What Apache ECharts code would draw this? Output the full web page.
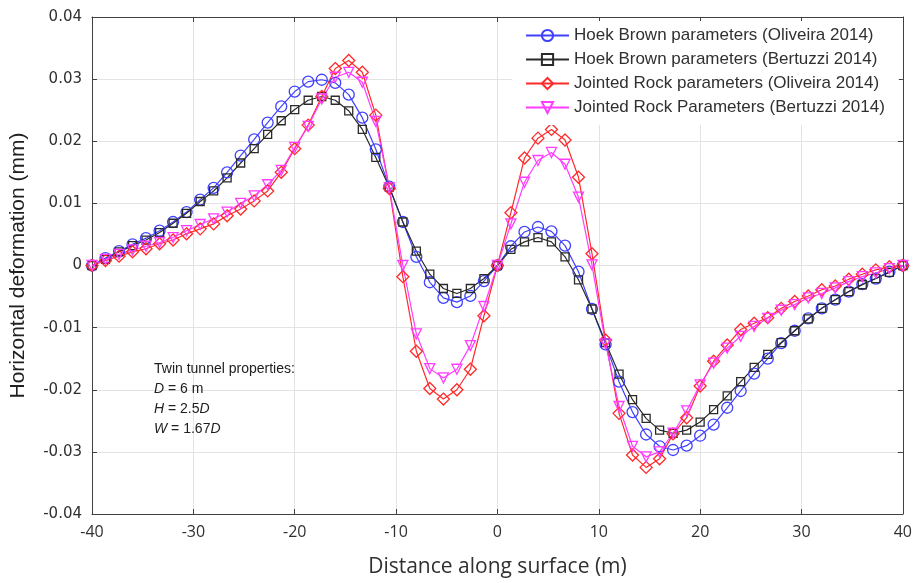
<!DOCTYPE html>
<html>
<head>
<meta charset="utf-8">
<script src="https://cdn.jsdelivr.net/npm/echarts@6/dist/echarts.min.js"></script>
<style>
html,body{margin:0;padding:0;background:#fff;}
#chart{width:915px;height:583px;}
</style>
</head>
<body>
<div id="chart"></div>
<script>
// Distance along surface (m)
const distance = [-40,-38.67,-37.33,-36,-34.67,-33.33,-32,-30.67,-29.33,-28,-26.67,-25.33,-24,-22.67,-21.33,-20,-18.67,-17.33,-16,-14.67,-13.33,-12,-10.67,-9.33,-8,-6.67,-5.33,-4,-2.67,-1.33,0,1.33,2.67,4,5.33,6.67,8,9.33,10.67,12,13.33,14.67,16,17.33,18.67,20,21.33,22.67,24,25.33,26.67,28,29.33,30.67,32,33.33,34.67,36,37.33,38.67,40];

const hbOliveira = [0,0.0012,0.0023,0.0034,0.0044,0.0056,0.0070,0.0086,0.0106,0.0125,0.0150,0.0177,0.0203,0.0230,0.0256,0.0280,0.0296,0.0299,0.0294,0.0275,0.0238,0.0187,0.0127,0.0070,0.0014,-0.0027,-0.0052,-0.0059,-0.0049,-0.0025,0,0.0031,0.0054,0.0062,0.0055,0.0032,-0.0010,-0.0070,-0.0127,-0.0187,-0.0236,-0.0272,-0.0291,-0.0297,-0.0290,-0.0274,-0.0256,-0.0229,-0.0202,-0.0174,-0.0150,-0.0125,-0.0105,-0.0085,-0.0069,-0.0055,-0.0042,-0.0030,-0.0021,-0.0010,0];

const hbBertuzzi = [0,0.0010,0.0022,0.0032,0.0041,0.0053,0.0068,0.0084,0.0103,0.0120,0.0141,0.0165,0.0188,0.0211,0.0233,0.0251,0.0266,0.0272,0.0266,0.0249,0.0219,0.0174,0.0126,0.0070,0.0023,-0.0014,-0.0037,-0.0045,-0.0037,-0.0021,0,0.0026,0.0038,0.0045,0.0038,0.0014,-0.0023,-0.0070,-0.0124,-0.0175,-0.0216,-0.0246,-0.0265,-0.0270,-0.0265,-0.0252,-0.0232,-0.0210,-0.0187,-0.0164,-0.0143,-0.0124,-0.0105,-0.0086,-0.0069,-0.0055,-0.0042,-0.0031,-0.0021,-0.0011,0];

const jrOliveira = [0,0.0008,0.0015,0.0022,0.0027,0.0035,0.0041,0.0051,0.0059,0.0067,0.0080,0.0091,0.0104,0.0120,0.0150,0.0188,0.0226,0.0272,0.0317,0.0330,0.0311,0.0242,0.0124,-0.0018,-0.0138,-0.0198,-0.0215,-0.0200,-0.0167,-0.0081,0,0.0085,0.0173,0.0205,0.0219,0.0202,0.0142,0.0019,-0.0120,-0.0238,-0.0305,-0.0325,-0.0311,-0.0271,-0.0245,-0.0194,-0.0154,-0.0128,-0.0103,-0.0093,-0.0084,-0.0069,-0.0058,-0.0049,-0.0039,-0.0033,-0.0022,-0.0014,-0.0007,-0.0002,0];

const jrBertuzzi = [0,0.0010,0.0018,0.0025,0.0031,0.0037,0.0045,0.0056,0.0066,0.0075,0.0086,0.0100,0.0112,0.0130,0.0153,0.0190,0.0224,0.0268,0.0303,0.0311,0.0295,0.0232,0.0125,0.0000,-0.0110,-0.0166,-0.0181,-0.0167,-0.0129,-0.0066,0,0.0067,0.0134,0.0169,0.0182,0.0163,0.0110,0.0001,-0.0126,-0.0227,-0.0291,-0.0308,-0.0300,-0.0270,-0.0234,-0.0192,-0.0157,-0.0133,-0.0114,-0.0098,-0.0085,-0.0072,-0.0063,-0.0052,-0.0045,-0.0036,-0.0026,-0.0018,-0.0012,-0.0005,0];

const seriesNames = [
  'Hoek Brown parameters (Oliveira 2014)',
  'Hoek Brown parameters (Bertuzzi 2014)',
  'Jointed Rock parameters (Oliveira 2014)',
  'Jointed Rock Parameters (Bertuzzi 2014)'
];
const xTicks = [-40,-30,-20,-10,0,10,20,30,40];
const yTicks = [-0.04,-0.03,-0.02,-0.01,0,0.01,0.02,0.03,0.04];

const pair = ys => distance.map((x, i) => [x, ys[i]]);

function mk(name, ys, color, symbol, size, rotate) {
  return {
    name: name,
    type: 'line',
    data: pair(ys),
    symbol: symbol,
    symbolSize: size,
    symbolRotate: rotate || 0,
    showAllSymbol: true,
    lineStyle: { color: color, width: 1.2 },
    itemStyle: { color: 'rgba(255,255,255,0)', borderColor: color, borderWidth: 1.3 },
    emphasis: { disabled: true },
    animation: false,
    z: 3
  };
}

const chart = echarts.init(document.getElementById('chart'));
const gridCol = '#e3e3e3';
const axisCol = '#404040';
chart.setOption({
  backgroundColor: '#ffffff',
  animation: false,
  grid: { left: 92, right: 11, top: 17, bottom: 66 },
  legend: {
    data: seriesNames,
    orient: 'vertical',
    left: 512,
    top: 21,
    padding: [6, 14, 9, 13],
    itemWidth: 43,
    itemHeight: 14,
    itemGap: 7,
    backgroundColor: '#ffffff',
    textStyle: { fontFamily: 'Liberation Sans, Arial, sans-serif', fontSize: 17, lineHeight: 17, color: '#303030' }
  },
  xAxis: [{
    type: 'value', min: -40, max: 40, interval: 10,
    name: 'Distance along surface (m)', nameLocation: 'middle', nameGap: 43,
    nameTextStyle: { fontFamily: 'Open Sans, sans-serif', fontSize: 21, color: '#303030' },
    axisLine: { show: true, onZero: false, lineStyle: { color: axisCol, width: 1 } },
    axisTick: { show: true, inside: true, length: 5, lineStyle: { color: axisCol } },
    axisLabel: { margin: 10, fontFamily: 'Open Sans, sans-serif', fontSize: 16, color: '#303030' },
    splitLine: { show: true, lineStyle: { color: gridCol, width: 1 } }
  }, {
    type: 'value', min: -40, max: 40, interval: 10, position: 'top',
    axisLine: { show: true, onZero: false, lineStyle: { color: axisCol, width: 1 } },
    axisTick: { show: true, inside: true, length: 5, lineStyle: { color: axisCol } },
    axisLabel: { show: false }, splitLine: { show: false }
  }],
  yAxis: [{
    type: 'value', min: -0.04, max: 0.04, interval: 0.01,
    name: 'Horizontal deformation (mm)', nameLocation: 'middle', nameGap: 63,
    nameTextStyle: { fontFamily: 'Liberation Sans, Arial, sans-serif', fontSize: 21, color: '#202020' },
    axisLine: { show: true, onZero: false, lineStyle: { color: axisCol, width: 1 } },
    axisTick: { show: true, inside: true, length: 5, lineStyle: { color: axisCol } },
    axisLabel: { margin: 10, fontFamily: 'DejaVu Sans, sans-serif', fontSize: 15, color: '#303030',
      formatter: v => { const r = Math.round(v * 100) / 100; return r === 0 ? '0' : r.toFixed(2); } },
    splitLine: { show: true, lineStyle: { color: gridCol, width: 1 } }
  }, {
    type: 'value', min: -0.04, max: 0.04, interval: 0.01, position: 'right',
    axisLine: { show: true, onZero: false, lineStyle: { color: axisCol, width: 1 } },
    axisTick: { show: true, inside: true, length: 5, lineStyle: { color: axisCol } },
    axisLabel: { show: false }, splitLine: { show: false }
  }],
  graphic: [{
    type: 'text', left: 154, top: 359, z: 10,
    style: {
      text: 'Twin tunnel properties:\n{i|D} = 6 m\n{i|H} = 2.5{i|D}\n{i|W} = 1.67{i|D}',
      fill: '#202020', fontFamily: 'Liberation Sans, Arial, sans-serif', fontSize: 14, lineHeight: 20,
      rich: { i: { fontStyle: 'italic', fontFamily: 'Liberation Sans, Arial, sans-serif', fontSize: 14, fill: '#202020', lineHeight: 20 } }
    }
  }],
  series: [
    mk(seriesNames[0], hbOliveira, '#4040ff', 'circle', 11),
    mk(seriesNames[1], hbBertuzzi, '#2a2a2a', 'rect', 8),
    mk(seriesNames[2], jrOliveira, '#ff2a2a', 'diamond', 12),
    mk(seriesNames[3], jrBertuzzi, '#ff3cff', 'triangle', 10, 180)
  ]
});
</script>
</body>
</html>
